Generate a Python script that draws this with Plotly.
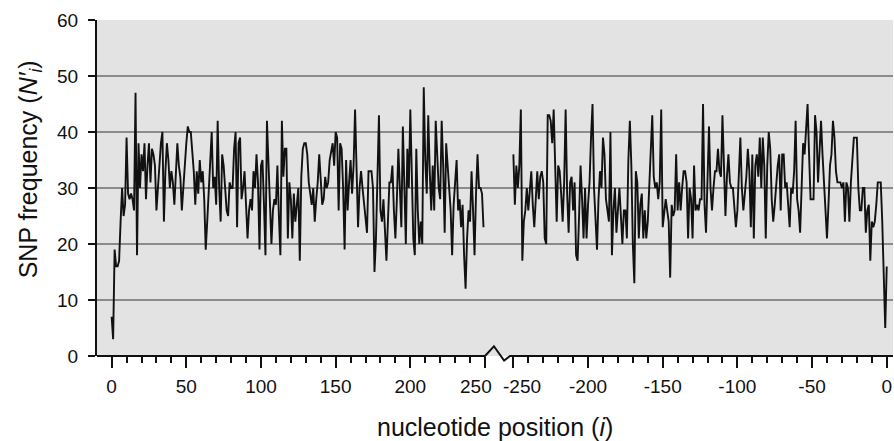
import plotly.graph_objects as go

# ---- data (SNP frequency per nucleotide position) ----
# 5' side: positions 0 .. 249
left_pos = list(range(0, 250))
left_vals = [
    7, 3, 19, 16, 16, 17, 24, 30, 25, 27,
    39, 29, 28, 29, 28, 26, 47, 18, 38, 30,
    36, 33, 38, 28, 34, 38, 31, 37, 36, 34,
    26, 30, 35, 38, 40, 24, 33, 38, 35, 30,
    33, 31, 27, 32, 38, 34, 32, 26, 30, 35,
    38, 41, 40, 40, 37, 33, 27, 33, 29, 35,
    31, 33, 28, 19, 24, 30, 35, 40, 30, 32,
    27, 42, 30, 24, 36, 34, 30, 26, 25, 31,
    30, 30, 37, 40, 23, 38, 39, 28, 30, 33,
    27, 21, 26, 28, 26, 33, 30, 36, 31, 19,
    34, 35, 27, 18, 42, 35, 28, 20, 26, 28,
    27, 34, 25, 18, 42, 32, 37, 37, 21, 31,
    28, 21, 29, 24, 27, 30, 17, 32, 37, 38,
    38, 36, 31, 29, 27, 30, 24, 28, 31, 36,
    30, 27, 28, 32, 30, 31, 35, 37, 38, 34,
    40, 39, 26, 38, 37, 30, 19, 35, 26, 31,
    35, 29, 34, 44, 30, 23, 30, 33, 30, 27,
    24, 22, 33, 33, 33, 30, 15, 21, 30, 43,
    26, 24, 28, 23, 17, 24, 31, 31, 34, 26,
    21, 28, 37, 30, 23, 41, 28, 20, 37, 30,
    44, 30, 21, 18, 37, 26, 20, 24, 20, 48,
    35, 29, 43, 33, 26, 34, 26, 42, 36, 30,
    28, 42, 34, 22, 38, 34, 31, 26, 18, 27,
    31, 35, 26, 28, 23, 27, 18, 12, 21, 26,
    24, 33, 26, 18, 29, 36, 30, 30, 29, 23,
]

# 3' side: positions -250 .. 0
right_pos = list(range(-250, 1))
right_vals = [
    36, 27, 34, 30, 34, 44, 17, 24, 26, 30,
    26, 29, 33, 27, 23, 28, 33, 28, 32, 33,
    31, 21, 20, 43, 43, 42, 38, 44, 34, 24,
    34, 33, 29, 24, 31, 44, 29, 22, 31, 32,
    26, 31, 18, 17, 25, 34, 28, 21, 30, 21,
    27, 31, 39, 45, 30, 24, 19, 28, 33, 30,
    39, 36, 28, 26, 24, 40, 18, 26, 30, 22,
    27, 30, 25, 20, 26, 26, 21, 35, 42, 34,
    20, 13, 33, 31, 21, 27, 29, 21, 26, 21,
    24, 31, 38, 43, 32, 30, 31, 28, 31, 44,
    23, 26, 28, 26, 24, 14, 27, 25, 26, 36,
    26, 31, 26, 30, 33, 33, 31, 21, 30, 28,
    21, 34, 26, 27, 26, 28, 28, 45, 27, 22,
    34, 41, 30, 26, 30, 33, 33, 37, 33, 32,
    43, 32, 25, 32, 36, 31, 30, 30, 27, 23,
    26, 33, 39, 30, 26, 29, 32, 37, 33, 23,
    36, 21, 34, 36, 32, 39, 30, 39, 34, 21,
    34, 40, 37, 28, 24, 27, 31, 34, 36, 26,
    36, 36, 30, 31, 27, 23, 30, 29, 33, 42,
    28, 26, 22, 30, 38, 36, 40, 45, 36, 28,
    28, 28, 43, 40, 31, 37, 42, 36, 31, 26,
    21, 27, 34, 36, 42, 39, 33, 31, 31, 31,
    30, 31, 24, 31, 30, 24, 31, 35, 39, 39,
    39, 30, 26, 26, 30, 30, 22, 26, 27, 17,
    24, 23, 24, 27, 31, 31, 31, 24, 14, 5,
    16,
]

left_ticks = [0, 50, 100, 150, 200, 250]
right_ticks = [-250, -200, -150, -100, -50, 0]
gap = 19                      # blank space (in nucleotide units) at the axis break
offset = 250 + gap + 250      # right-hand block placed after the break

x_left = left_pos
x_right = [p + offset for p in right_pos]

tickvals = left_ticks + [t + offset for t in right_ticks]
ticktext = [str(t) for t in left_ticks] + [str(t) for t in right_ticks]
# the two labels beside the break are drawn as annotations (pushed apart)
break_labels = [(tickvals[5], ticktext[5], "right", 8),
                (tickvals[6], ticktext[6], "left", -11)]
ticktext[5] = ""
ticktext[6] = ""
minor_vals = [v for v in range(10, 250, 10) if v % 50] + \
             [v + offset for v in range(-240, 0, 10) if v % 50]

x_min, x_max = -9.8, offset + 4.2

fig = go.Figure()
fig.add_trace(go.Scatter(x=x_left, y=left_vals, mode="lines",
                         line=dict(color="#111111", width=1.9), showlegend=False))
fig.add_trace(go.Scatter(x=x_right, y=right_vals, mode="lines",
                         line=dict(color="#111111", width=1.9), showlegend=False))

shapes = []
for g in [10, 20, 30, 40, 50]:
    shapes.append(dict(type="line", xref="paper", yref="y", x0=0, x1=1, y0=g, y1=g,
                       line=dict(color="#6e6e6e", width=1.6), layer="below"))
# x axis line with break symbol
peak, dip = 0.029, -0.0135
path = (f"M {x_min},0 L 250,0 L 256,{peak} L 262.8,{dip} L 266.8,0 L {x_max},0")
shapes.append(dict(type="path", xref="x", yref="paper", path=path,
                   line=dict(color="#111111", width=2), layer="above"))

fig.update_layout(
    width=894, height=441,
    margin=dict(l=97, r=1, t=20, b=85, autoexpand=False),
    paper_bgcolor="white",
    plot_bgcolor="#e3e3e3",
    font=dict(family="Liberation Sans, Arial, sans-serif", color="#111111", size=19),
    shapes=shapes,
    showlegend=False,
)
fig.update_xaxes(
    range=[x_min, x_max], tickmode="array", tickvals=tickvals, ticktext=ticktext,
    tickangle=0, automargin=False,
    ticks="outside", ticklen=11, tickwidth=2, tickcolor="#111111",
    ticklabelstandoff=2,
    minor=dict(tickmode="array", tickvals=minor_vals, ticks="outside",
               ticklen=6, tickwidth=2, tickcolor="#111111", showgrid=False),
    showline=False, showgrid=False, zeroline=False,
    tickfont=dict(size=19),
)
fig.update_yaxes(
    range=[0, 60], tickmode="array", tickvals=[0, 10, 20, 30, 40, 50, 60],
    automargin=False,
    ticks="outside", ticklen=7, tickwidth=2, tickcolor="#111111",
    ticklabelstandoff=6,
    showline=True, linewidth=2, linecolor="#111111",
    showgrid=False, zeroline=False, tickfont=dict(size=19),
)
for xv, txt, anchor, shift in break_labels:
    fig.add_annotation(text=txt, xref="x", yref="paper", x=xv, y=-0.0893,
                       xanchor=anchor, yanchor="middle", xshift=shift,
                       showarrow=False, borderpad=0, font=dict(size=19))
fig.add_annotation(text="nucleotide position (<i>i</i>)", xref="paper", yref="paper",
                   x=0.5, y=-0.212, xanchor="center", yanchor="middle",
                   showarrow=False, font=dict(size=25))
fig.add_annotation(text="SNP frequency (<i>N′</i><sub><i>i</i></sub>)",
                   xref="paper", yref="paper", x=-0.084, y=0.556,
                   xanchor="center", yanchor="middle", textangle=-90,
                   showarrow=False, font=dict(size=25))

fig.write_html("out.html", config={"displayModeBar": False},
               post_script="document.body.style.margin='0';document.body.style.overflow='hidden';")
